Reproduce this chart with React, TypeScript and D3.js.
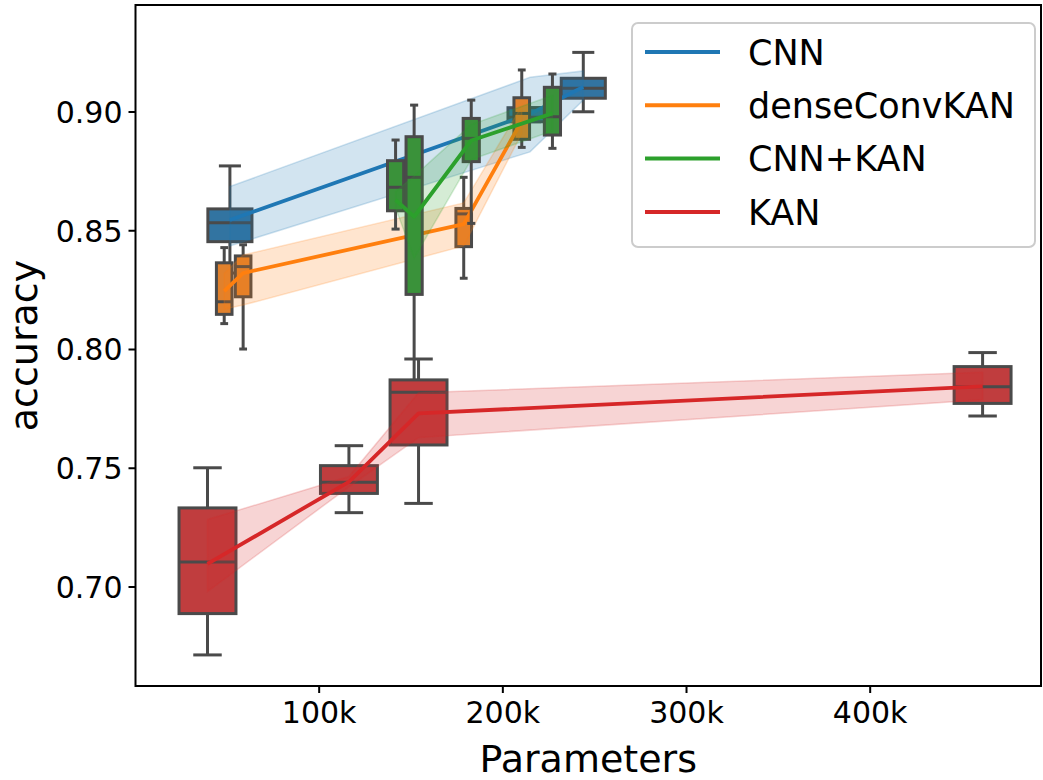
import React from "react";
import * as d3 from "d3";

// ---------- data (parameters in thousands, accuracy) ----------
const models = ["CNN", "denseConvKAN", "CNN+KAN", "KAN"];

const cnnParams = [51.4, 214.8, 243.8];
const cnnWhiskerLow = [0.8322, 0.8959, 0.9001];
const cnnQ1 = [0.8454, 0.8959, 0.9058];
const cnnMedian = [0.8534, 0.8978, 0.91];
const cnnQ3 = [0.8592, 0.9018, 0.9142];
const cnnWhiskerHigh = [0.8773, 0.9018, 0.9251];
const cnnMean = [0.8545, 0.8992, 0.9105];
const cnnCiLow = [0.8436, 0.8832, 0.905];
const cnnCiHigh = [0.8686, 0.9146, 0.9173];

const denseParams = [48.3, 58.6, 178.7, 210.3];
const denseWhiskerLow = [0.8109, 0.8002, 0.83, 0.8851];
const denseQ1 = [0.8148, 0.8222, 0.8433, 0.8885];
const denseMedian = [0.8201, 0.8349, 0.8571, 0.8994];
const denseQ3 = [0.8365, 0.8394, 0.8594, 0.906];
const denseWhiskerHigh = [0.8429, 0.8441, 0.8725, 0.9177];
const denseMean = [0.8246, 0.8322, 0.8528, 0.8962];
const denseCiLow = [0.817, 0.8187, 0.8436, 0.891];
const denseCiHigh = [0.832, 0.8398, 0.8617, 0.9025];

const cnnKanParams = [141.6, 151.7, 182.8, 227.0];
const cnnKanWhiskerLow = [0.8507, 0.787, 0.8531, 0.8847];
const cnnKanQ1 = [0.8584, 0.8232, 0.8791, 0.8903];
const cnnKanMedian = [0.8683, 0.8725, 0.8889, 0.898];
const cnnKanQ3 = [0.8795, 0.8896, 0.8973, 0.9104];
const cnnKanWhiskerHigh = [0.8882, 0.9029, 0.905, 0.916];
const cnnKanMean = [0.863, 0.8559, 0.888, 0.8994];
const cnnKanCiLow = [0.8596, 0.8385, 0.88, 0.892];
const cnnKanCiHigh = [0.8665, 0.873, 0.8947, 0.907];

const kanParams = [39.2, 116.2, 154.1, 461.2];
const kanWhiskerLow = [0.6714, 0.7313, 0.7352, 0.772];
const kanQ1 = [0.6888, 0.7394, 0.7598, 0.7773];
const kanMedian = [0.7105, 0.7441, 0.782, 0.7843];
const kanQ3 = [0.7333, 0.7511, 0.7872, 0.7928];
const kanWhiskerHigh = [0.7502, 0.7595, 0.796, 0.7987];
const kanMean = [0.7097, 0.7443, 0.7731, 0.7845];
const kanCiLow = [0.6981, 0.7422, 0.7629, 0.7788];
const kanCiHigh = [0.7284, 0.7465, 0.7818, 0.7904];

const xTicks = [100, 200, 300, 400];
const yTicks = [0.7, 0.75, 0.8, 0.85, 0.9];

// ---------- styles ----------
const lineColors = ["#1f77b4", "#ff7f0e", "#2ca02c", "#d62728"];
const boxColors = ["#3274a1", "#e1812c", "#3a923a", "#c03d3e"];
const boxWidthsK = [24, 8.5, 8.8, 31]; // box width in data units (k params)
const edge = "#4a4a4a";
const FONT = "DejaVu Sans, sans-serif";

const W = 1043;
const H = 780;
const left = 135.5;
const right = 1041;
const top = 5;
const bottom = 686;

export default function App() {
  const x = d3.scaleLinear().domain([0, 493]).range([left, right]);
  const y = d3.scaleLinear().domain([0.658316, 0.945053]).range([bottom, top]);

  const series = [
    { p: cnnParams, wl: cnnWhiskerLow, q1: cnnQ1, md: cnnMedian, q3: cnnQ3, wh: cnnWhiskerHigh, mean: cnnMean, lo: cnnCiLow, hi: cnnCiHigh },
    { p: denseParams, wl: denseWhiskerLow, q1: denseQ1, md: denseMedian, q3: denseQ3, wh: denseWhiskerHigh, mean: denseMean, lo: denseCiLow, hi: denseCiHigh },
    { p: cnnKanParams, wl: cnnKanWhiskerLow, q1: cnnKanQ1, md: cnnKanMedian, q3: cnnKanQ3, wh: cnnKanWhiskerHigh, mean: cnnKanMean, lo: cnnKanCiLow, hi: cnnKanCiHigh },
    { p: kanParams, wl: kanWhiskerLow, q1: kanQ1, md: kanMedian, q3: kanQ3, wh: kanWhiskerHigh, mean: kanMean, lo: kanCiLow, hi: kanCiHigh },
  ];

  const line = d3
    .line<number>()
    .x((_, i) => 0)
    .y(() => 0);

  const layers = series.map((s, si) => {
    const idx = s.p.map((_, i) => i);
    const area = d3
      .area<number>()
      .x((i) => x(s.p[i]))
      .y0((i) => y(s.lo[i]))
      .y1((i) => y(s.hi[i]));
    const ln = d3
      .line<number>()
      .x((i) => x(s.p[i]))
      .y((i) => y(s.mean[i]));
    const bw = x(boxWidthsK[si]) - x(0);
    return (
      <g key={models[si]}>
        {idx.map((i) => {
          const cx = x(s.p[i]);
          const capW = bw / 2;
          return (
            <g key={i} stroke={edge} strokeWidth={3} fill="none">
              <line x1={cx} x2={cx} y1={y(s.q3[i])} y2={y(s.wh[i])} />
              <line x1={cx} x2={cx} y1={y(s.q1[i])} y2={y(s.wl[i])} />
              <line x1={cx - capW / 2} x2={cx + capW / 2} y1={y(s.wh[i])} y2={y(s.wh[i])} />
              <line x1={cx - capW / 2} x2={cx + capW / 2} y1={y(s.wl[i])} y2={y(s.wl[i])} />
              <rect
                x={cx - bw / 2}
                y={y(s.q3[i])}
                width={bw}
                height={y(s.q1[i]) - y(s.q3[i])}
                fill={boxColors[si]}
              />
              <line x1={cx - bw / 2} x2={cx + bw / 2} y1={y(s.md[i])} y2={y(s.md[i])} />
            </g>
          );
        })}
        <path
          d={area(idx) || ""}
          fill={lineColors[si]}
          fillOpacity={0.2}
          stroke={lineColors[si]}
          strokeOpacity={0.2}
          strokeWidth={1.5}
        />
        <path d={ln(idx) || ""} fill="none" stroke={lineColors[si]} strokeWidth={3.8} strokeLinejoin="round" />
      </g>
    );
  });

  return (
    <div style={{ position: "absolute", left: 0, top: 0 }}>
      <svg width={W} height={H} style={{ display: "block", fontFamily: FONT }}>
        <rect width={W} height={H} fill="white" />
        {layers}
        {/* spines */}
        <rect x={left} y={top} width={right - left} height={bottom - top} fill="none" stroke="black" strokeWidth={2} />
        {/* y ticks */}
        {yTicks.map((t) => (
          <g key={t}>
            <line x1={left - 7} x2={left} y1={y(t)} y2={y(t)} stroke="black" strokeWidth={2} />
            <text x={left - 13} y={y(t)} dy="0.36em" textAnchor="end" fontSize={30} fill="black">
              {d3.format(".2f")(t)}
            </text>
          </g>
        ))}
        {/* x ticks */}
        {xTicks.map((t) => (
          <g key={t}>
            <line x1={x(t)} x2={x(t)} y1={bottom} y2={bottom + 7} stroke="black" strokeWidth={2} />
            <text x={x(t)} y={bottom + 37} textAnchor="middle" fontSize={30} fill="black">
              {`${t}k`}
            </text>
          </g>
        ))}
        <text x={(left + right) / 2} y={772} textAnchor="middle" fontSize={38} fill="black">
          Parameters
        </text>
        <text
          transform={`translate(37,${(top + bottom) / 2}) rotate(-90)`}
          textAnchor="middle"
          fontSize={38}
          fill="black"
        >
          accuracy
        </text>
        {/* legend */}
        <g>
          <rect x={632} y={23} width={403} height={224} rx={6} fill="white" fillOpacity={0.8} stroke="#cccccc" strokeWidth={2} />
          {models.map((m, i) => {
            const ly = 52 + i * 53.3;
            return (
              <g key={m}>
                <line x1={645} x2={720} y1={ly} y2={ly} stroke={lineColors[i]} strokeWidth={4} />
                <text x={748} y={ly} dy="0.36em" fontSize={35} fill="black">
                  {m}
                </text>
              </g>
            );
          })}
        </g>
      </svg>
    </div>
  );
}
